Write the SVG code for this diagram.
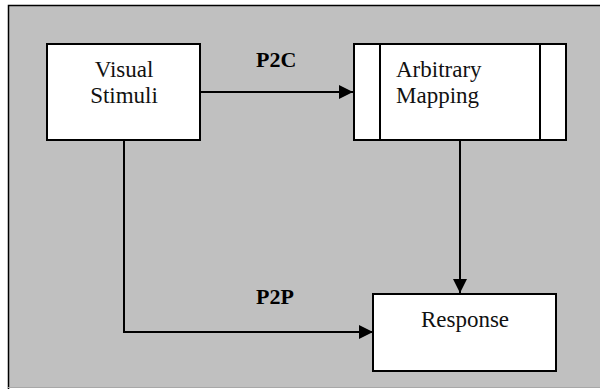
<svg xmlns="http://www.w3.org/2000/svg" width="600" height="389" viewBox="0 0 600 389">
<defs>
<style>
.box{fill:#fff;stroke:#000;stroke-width:2}
.t{font-family:"Liberation Serif","Times New Roman",serif;font-size:23px;fill:#111}
.b{font-family:"Liberation Serif","Times New Roman",serif;font-size:22px;font-weight:bold;fill:#000}
.c{fill:none;stroke:#000;stroke-width:2}
</style>
<marker id="ah" markerWidth="14" markerHeight="14" refX="14" refY="7" orient="auto" markerUnits="userSpaceOnUse" viewBox="0 0 14 14">
<path d="M0,0 L14,7 L0,14 Z" fill="#000"/>
</marker>
</defs>
<rect x="0" y="0" width="600" height="389" fill="#fff"/>
<rect x="8" y="5" width="600" height="383" fill="#c0c0c0"/>
<path d="M8.5,389 V5.5 H600" fill="none" stroke="#000" stroke-width="1.5"/>
<line x1="8" y1="387.5" x2="600" y2="387.5" stroke="#a8a8a8" stroke-width="1"/>
<g id="connectors">
<path class="c" d="M200,92 H353" marker-end="url(#ah)"/>
<path class="c" d="M460,140 V293" marker-end="url(#ah)"/>
<path class="c" d="M124,140 V332 H373" marker-end="url(#ah)"/>
<text class="b" x="256" y="67">P2C</text>
<text class="b" x="256" y="304">P2P</text>
</g>
<g id="visual-stimuli">
<rect class="box" x="47" y="44" width="153" height="96"/>
<text class="t" x="124" y="77" text-anchor="middle">Visual</text>
<text class="t" x="124" y="103" text-anchor="middle">Stimuli</text>
</g>
<g id="arbitrary-mapping">
<rect class="box" x="354" y="44" width="212" height="96"/>
<line class="c" x1="380" y1="44" x2="380" y2="140"/>
<line class="c" x1="540" y1="44" x2="540" y2="140"/>
<text class="t" x="396" y="77">Arbitrary</text>
<text class="t" x="396" y="103">Mapping</text>
</g>
<g id="response">
<rect class="box" x="373" y="294" width="183" height="77"/>
<text class="t" x="465" y="327" text-anchor="middle">Response</text>
</g>
</svg>
